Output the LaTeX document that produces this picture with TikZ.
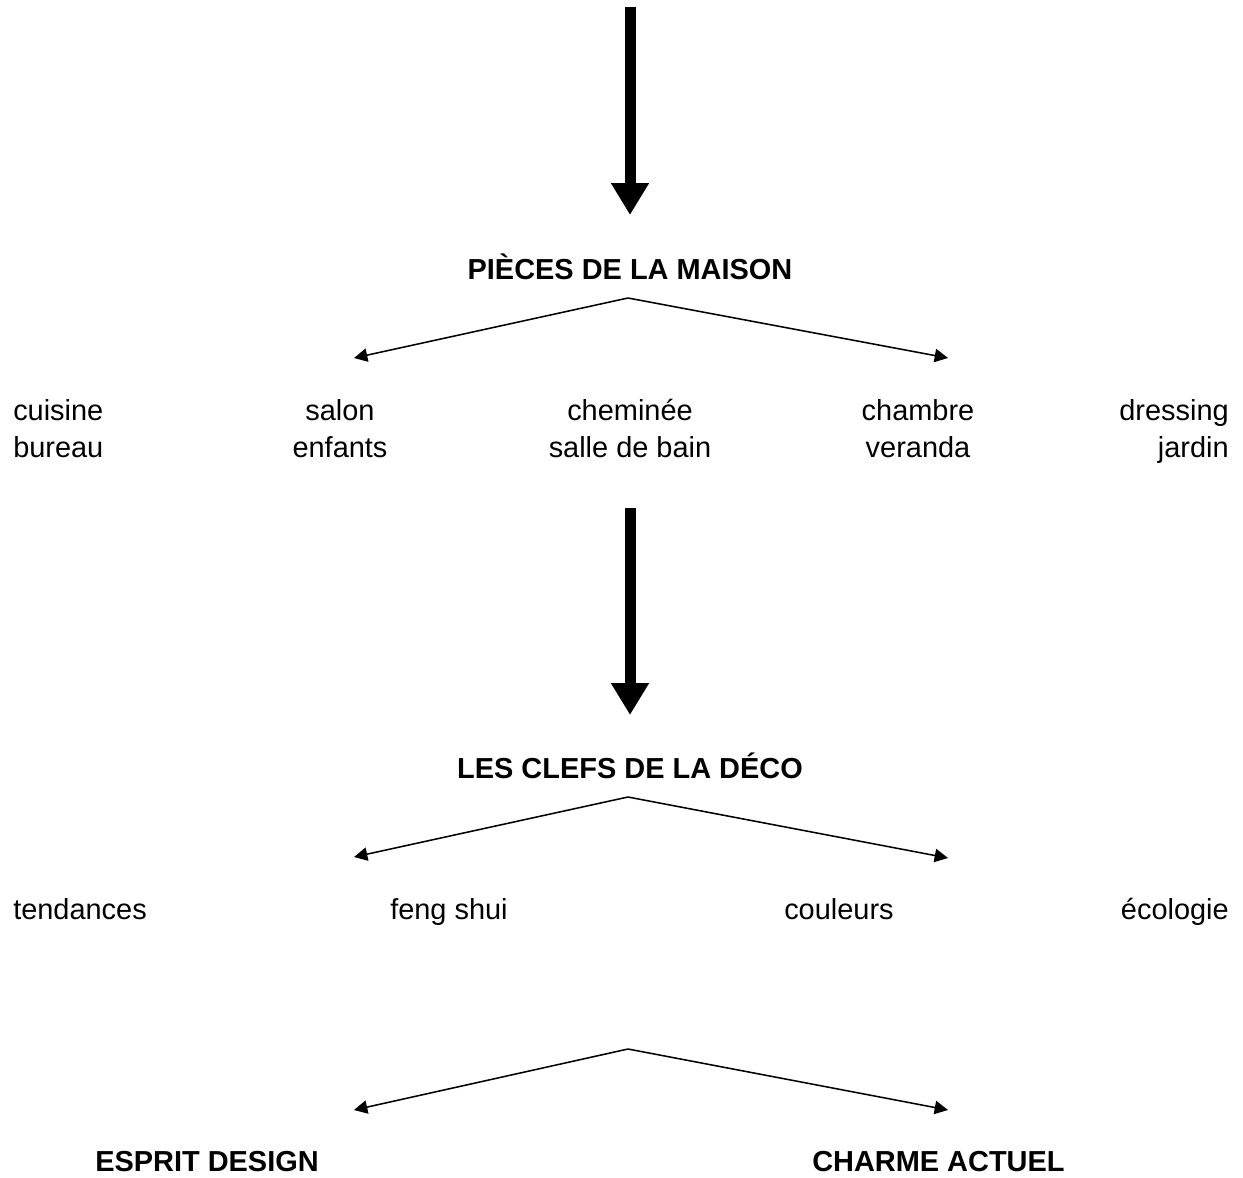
\documentclass[tikz,border=0pt]{standalone}
\usepackage{fontspec}
\setmainfont{Liberation Sans}
\usetikzlibrary{arrows.meta}
\begin{document}
\begin{tikzpicture}[x=0.75pt,y=-0.75pt,
  txt/.style={inner sep=0pt,anchor=base,font=\fontsize{21.7}{26}\selectfont},
  ttl/.style={txt,font=\fontsize{21.7}{26}\selectfont\bfseries},
  bigarrow/.style={line width=8.25pt,-{Triangle[length=24pt,width=27pt]}},
  split/.style={line width=1.15pt,-{Triangle[length=10pt,width=10pt]}}]
\useasboundingbox (0,0) rectangle (1243,1178);
% top arrow
\coordinate (top) at (630,7);
\coordinate (tip1) at (630,215);
\draw[bigarrow] (top) -- (tip1);
\node[ttl] (t1) at (630,279) {PIÈCES DE LA MAISON};
% split 1
\coordinate (a1) at (628,298);
\coordinate (l1) at (354,358);
\coordinate (r1) at (948,358);
\draw[split] (a1) -- (l1);
\draw[split] (a1) -- (r1);
% rooms
\node[txt,anchor=base west] (cuisine) at (13,420) {cuisine};
\node[txt,anchor=base west] (bureau) at (13,457) {bureau};
\node[txt] (salon) at (340,420) {salon};
\node[txt] (enfants) at (340,457) {enfants};
\node[txt] (chem) at (630,420) {cheminée};
\node[txt] (sdb) at (630,457) {salle de bain};
\node[txt] (chambre) at (918,420) {chambre};
\node[txt] (veranda) at (918,457) {veranda};
\node[txt,anchor=base east] (dressing) at (1229,420) {dressing};
\node[txt,anchor=base east] (jardin) at (1229,457) {jardin};
% second arrow
\coordinate (top2) at (630,508);
\coordinate (tip2) at (630,715);
\draw[bigarrow] (top2) -- (tip2);
\node[ttl] (t2) at (630,778) {LES CLEFS DE LA DÉCO};
% split 2
\coordinate (a2) at (628,797);
\coordinate (l2) at (354,857);
\coordinate (r2) at (948,858);
\draw[split] (a2) -- (l2);
\draw[split] (a2) -- (r2);
\node[txt,anchor=base west] (tend) at (13,919) {tendances};
\node[txt,anchor=base west] (feng) at (390,919) {feng shui};
\node[txt,anchor=base west] (coul) at (784,919) {couleurs};
\node[txt,anchor=base east] (eco) at (1229,919) {écologie};
% split 3
\coordinate (a3) at (628,1049);
\coordinate (l3) at (354,1110);
\coordinate (r3) at (948,1110);
\draw[split] (a3) -- (l3);
\draw[split] (a3) -- (r3);
\node[ttl,anchor=base west] (esprit) at (95,1171) {ESPRIT DESIGN};
\node[ttl,anchor=base west] (charme) at (812,1171) {CHARME ACTUEL};
\end{tikzpicture}
\end{document}
